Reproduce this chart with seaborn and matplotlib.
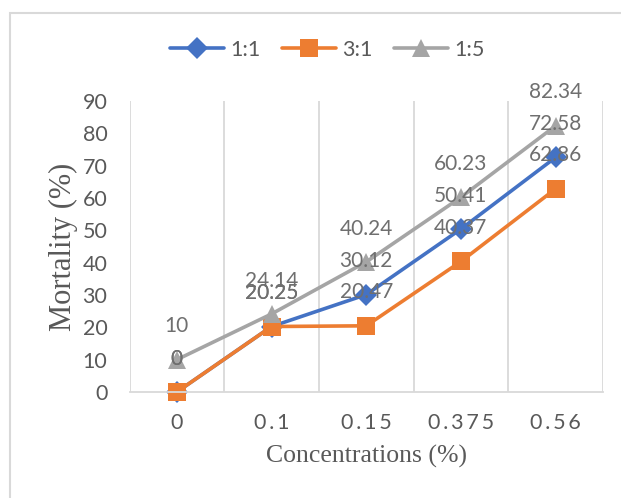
import seaborn as sns
import pandas as pd
import numpy as np
import matplotlib.pyplot as plt
from matplotlib.patches import Rectangle

concentrations = ['0', '0.1', '0.15', '0.375', '0.56']
ratios = ['1:1', '3:1', '1:5']
mort_1_1 = [0, 20.25, 30.12, 50.41, 72.58]
mort_3_1 = [0, 20.25, 20.47, 40.37, 62.86]
mort_1_5 = [10, 24.14, 40.24, 60.23, 82.34]

colors = ['#4472C4', '#ED7D31', '#A5A5A5']
markers = ['D', 's', '^']
msizes = {'D': 11, 's': 13, '^': 12.5}

rows = []
for ratio, vals in zip(ratios, [mort_1_1, mort_3_1, mort_1_5]):
    for c, v in zip(concentrations, vals):
        rows.append({'conc': c, 'mort': v, 'ratio': ratio})
df = pd.DataFrame(rows)

sns.set_style('white')
plt.rcParams['font.family'] = ['Lato', 'DejaVu Sans']
grey = '#595959'

fig = plt.figure(figsize=(6.21, 4.98), dpi=100)
ax = fig.add_axes([129.5 / 621, 1 - 392 / 498, (603 - 129.5) / 621, (392 - 101) / 498])

sns.lineplot(data=df, x='conc', y='mort', hue='ratio', style='ratio',
             markers=markers, dashes=False, palette=colors, linewidth=2.6,
             markersize=12, markeredgewidth=0, sort=False, ax=ax, legend=False)
for line, m in zip(ax.lines, markers):
    line.set_markersize(msizes[m])
    line.set_clip_on(False)

# data labels above each point
for ratio, vals in zip(ratios, [mort_1_1, mort_3_1, mort_1_5]):
    for i, v in enumerate(vals):
        ax.annotate('%g' % v, (i, v), xytext=(0, 24), textcoords='offset points',
                    ha='center', va='center', fontsize=15, color='#6f6f6f')

ax.set_xlim(-0.5, 4.5)
ax.set_ylim(0, 90)
ax.set_yticks(np.arange(0, 91, 10))
ax.set_xticks(range(5))
ax.set_xticklabels(['\u2009'.join(list(c)) for c in concentrations])
for b in np.arange(-0.5, 4.6, 1):
    ax.axvline(b, color='#d9d9d9', lw=1.3, zorder=0)
for s in ['top', 'right', 'left']:
    ax.spines[s].set_visible(False)
ax.spines['bottom'].set_color('#d9d9d9')
ax.spines['bottom'].set_linewidth(1.3)
ax.tick_params(axis='both', length=0, labelsize=15.5, labelcolor=grey)
ax.tick_params(axis='x', pad=15)
ax.tick_params(axis='y', pad=16)

ax.set_xlabel('Concentrations (%)', fontsize=18.5, color=grey,
              family='Liberation Serif', labelpad=9)
ax.set_ylabel('Mortality (%)', fontsize=22, color=grey,
              family='Liberation Serif', labelpad=3)

handles = [plt.Line2D([], [], color=c, marker=m, lw=2.6, markersize=msizes[m],
                      markeredgewidth=0) for c, m in zip(colors, markers)]
leg = fig.legend(handles, ratios, loc='center', bbox_to_anchor=(0.527, 1 - 50 / 498),
                 ncol=3, frameon=False, fontsize=15.5, handlelength=2.5,
                 columnspacing=1.0, handletextpad=0.3)
for t in leg.get_texts():
    t.set_color(grey)

fig.patches.append(Rectangle((10 / 621, -0.1), 1.2, 1.1 - 13 / 498, transform=fig.transFigure,
                             fill=False, edgecolor='#d9d9d9', lw=1.5))

fig.savefig('out.png', dpi=100)
